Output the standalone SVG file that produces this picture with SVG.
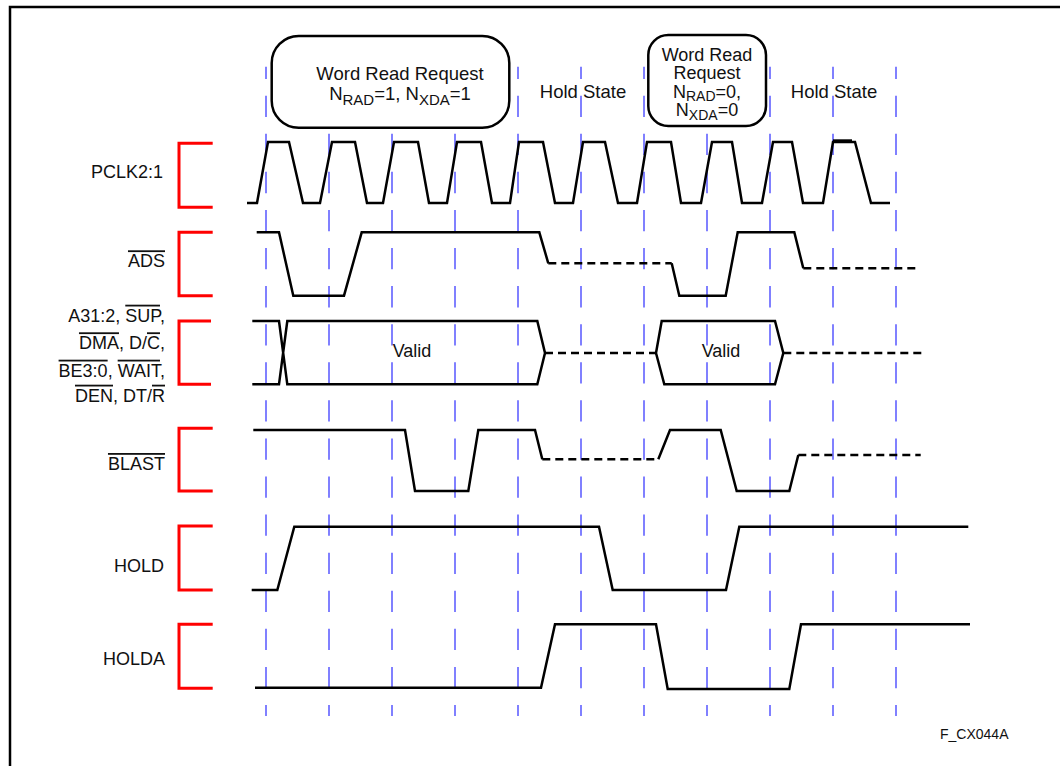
<svg xmlns="http://www.w3.org/2000/svg" width="1060" height="766" viewBox="0 0 1060 766">
<style>
text{font-family:"Liberation Sans",Arial,Helvetica,sans-serif;font-size:18px;fill:#111}
.lbl{text-anchor:end}
.mid{text-anchor:middle}
.big{font-size:18.5px}
.ov{text-decoration:overline}
.sub{font-size:15px}
.sub2{font-size:14px}
.br{fill:none;stroke:#ff0000;stroke-width:3}
.w{fill:none;stroke:#000;stroke-width:2.5;stroke-linejoin:miter}
.wd{fill:none;stroke:#000;stroke-width:2.5;stroke-dasharray:8 5}
.grid{fill:none;stroke:#8080ff;stroke-width:2;stroke-dasharray:21.3 16.78;stroke-dashoffset:9.1}
.box{fill:#fff;stroke:#000;stroke-width:2.5}
</style>
<rect x="0" y="0" width="1060" height="766" fill="#fff"/>
<path d="M10,766 V7 H1060" fill="none" stroke="#000" stroke-width="2.5"/>

<g id="connectors">
<path class="grid" d="M266,66.7 V716 M329,66.7 V716 M392,66.7 V716 M455,66.7 V716 M518,66.7 V716 M581,66.7 V716 M644,66.7 V716 M707,66.7 V716 M770,66.7 V716 M833,66.7 V716 M896,66.7 V716"/>
</g>

<g id="note-request1">
<rect class="box" x="271.7" y="36" width="237.6" height="91.7" rx="27" ry="27"/>
<text class="mid big" x="400" y="80">Word Read Request</text>
<text class="mid big" x="400" y="100">N<tspan class="sub" dy="5">RAD</tspan><tspan dy="-5">=1, N</tspan><tspan class="sub" dy="5">XDA</tspan><tspan dy="-5">=1</tspan></text>
</g>

<g id="note-hold1">
<text class="mid big" x="583" y="98.3">Hold State</text>
</g>

<g id="note-request2">
<rect class="box" x="648.3" y="35" width="117.7" height="91" rx="20" ry="20"/>
<text class="mid" x="707" y="60.7">Word Read</text>
<text class="mid" x="707" y="79">Request</text>
<text class="mid" x="707" y="97.5">N<tspan class="sub2" dy="3">RAD</tspan><tspan dy="-3">=0,</tspan></text>
<text class="mid" x="707" y="115.5">N<tspan class="sub2" dy="4">XDA</tspan><tspan dy="-4">=0</tspan></text>
</g>

<g id="note-hold2">
<text class="mid big" x="834" y="98.3">Hold State</text>
</g>

<g id="sig-pclk">
<text class="lbl" x="163" y="178.3">PCLK2:1</text>
<path class="br" d="M212.7,143.3 H179 V207.3 H212.7"/>
<path class="w" d="M247,203 H257 L268,142 H289 L303,203 H320 L332,142 H355 L367,203 H383 L394,142 H418 L429,203 H447 L457,142 H481 L492,203 H510 L519,142 H543 L555,203 H573 L583,142 H605 L618,203 H637 L647,142 H671 L681,203 H701 L712,142 H732 L742,203 H762 L773,142 H792 L803,203 H823 L833,142 H855 L871,203 H890"/>
<path d="M833,140.3 H852" stroke="#000" stroke-width="2"/>
</g>

<g id="sig-ads">
<text class="lbl" x="165" y="267.3"><tspan class="ov">ADS</tspan></text>
<path class="br" d="M212.7,232.3 H179 V295.7 H212.7"/>
<path class="w" d="M256.7,232.3 H279 L293.3,295.7 H344 L361.7,232.3 H539.3 L548.3,263.3"/>
<path class="wd" d="M548.3,263.3 H671.7"/>
<path class="w" d="M671.7,263.3 L679.3,295.7 H725.7 L737.7,232.3 H794.3 L803.3,268.3"/>
<path class="wd" d="M803.3,268.3 H919.3"/>
</g>

<g id="sig-addr">
<text class="lbl" x="165" y="321.7">A31:2, <tspan class="ov">SUP</tspan>,</text>
<text class="lbl" x="165" y="349.3"><tspan class="ov">DMA</tspan>, D/<tspan class="ov">C</tspan>,</text>
<text class="lbl" x="165" y="376.7"><tspan class="ov">BE3:0</tspan>, <tspan class="ov">WAIT</tspan>,</text>
<text class="lbl" x="165" y="401.7"><tspan class="ov">DEN</tspan>, DT/<tspan class="ov">R</tspan></text>
<path class="br" d="M211,321 H179 V384.3 H211"/>
<path class="w" d="M252.3,321 H279 L287.3,384.3 H537.3 L545,353 L537.3,321 H287.3 L279,384.3 H252.3"/>
<path class="wd" d="M545,353 H656"/>
<path class="w" d="M656,353 L661.7,321 H775 L783.3,353 L775,384.3 H664.3 Z"/>
<path class="wd" d="M783.3,353 H923.3"/>
<text class="mid" x="412" y="357">Valid</text>
<text class="mid" x="721" y="357">Valid</text>
</g>

<g id="sig-blast">
<text class="lbl" x="165" y="470"><tspan class="ov">BLAST</tspan></text>
<path class="br" d="M212.7,428.3 H179 V491 H212.7"/>
<path class="w" d="M253.3,430 H405 L415,491 H468.3 L478.3,430 H535 L542.3,459.3"/>
<path class="wd" d="M542.3,459.3 H658.3"/>
<path class="w" d="M658.3,459.3 L670,430 H720.7 L736.7,491 H789.3 L798.3,455"/>
<path class="wd" d="M798.3,455 H920.7"/>
</g>

<g id="sig-hold">
<text class="lbl" x="164" y="571.7">HOLD</text>
<path class="br" d="M212.7,526 H179 V590 H212.7"/>
<path class="w" d="M251.7,590 H277.3 L294.3,526.7 H599 L612.7,590 H726 L739.3,526.7 H968.3"/>
</g>

<g id="sig-holda">
<text class="lbl" x="165" y="665">HOLDA</text>
<path class="br" d="M212.7,624.3 H179 V688.3 H212.7"/>
<path class="w" d="M255,687.7 H541 L555,624.3 H656 L667.7,689 H789.3 L801,624.3 H970"/>
</g>

<g id="figure-id">
<text x="940" y="739.3" style="font-size:14px">F_CX044A</text>
</g>
</svg>
